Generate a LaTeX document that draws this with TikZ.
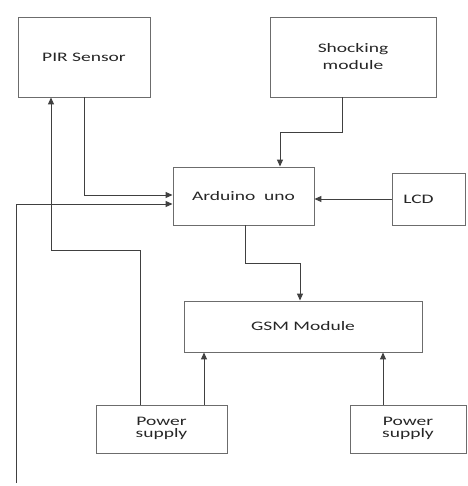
\documentclass[tikz,border=0pt]{standalone}
\usepackage{fontspec}
\newfontfamily\blockfont[FakeStretch=1.5]{Carlito}
\usetikzlibrary{arrows.meta}
\tikzset{
  block/.style={draw=gray!85!black,line width=0.9pt,rectangle,inner sep=0pt,
    font=\blockfont\fontsize{13}{17}\selectfont,text=black!85,align=center},
  link/.style={draw=black!75,line width=1pt,-{Triangle[length=7pt,width=6pt]}}
}
\begin{document}
\begin{tikzpicture}[x=1pt,y=-1pt]
\useasboundingbox[fill=white] (0,0) rectangle (467,486);
% blocks
\node[block,minimum width=132pt,minimum height=80pt] (pir) at (84,57) {PIR Sensor};
\node[block,minimum width=166pt,minimum height=80pt] (shock) at (353,57) {Shocking\\module};
\node[block,minimum width=141pt,minimum height=58pt] (ard) at (243.5,196) {Arduino\ \ uno};
\node[block,minimum width=73pt,minimum height=52pt] (lcd) at (428.5,199) {LCD\hspace{20pt}};
\node[block,minimum width=238pt,minimum height=51pt] (gsm) at (303,326.5) {GSM Module};
\node[block,minimum width=131pt,minimum height=48pt] (psa) at (161.5,429) {\raisebox{3pt}{\shortstack{Power\\supply}}};
\node[block,minimum width=116pt,minimum height=48pt] (psb) at (408,429) {\raisebox{3pt}{\shortstack{Power\\supply}}};
\coordinate (feed) at (16,483);
% connectors
\draw[link] (pir.south) |- ([yshift=1pt]ard.west);
\draw[link] (feed) |- ([yshift=-8pt]ard.west);
\draw[link] ([xshift=-21.5pt]psa.north) -- ++(0,-154) -| ([xshift=-33pt]pir.south);
\draw[link] ([xshift=42.5pt]psa.north) -- ([xshift=42.5pt]psa.north |- gsm.south);
\draw[link] ([xshift=-25pt]psb.north) -- ([xshift=-25pt]psb.north |- gsm.south);
\draw[link] ([xshift=-11pt]shock.south) -- ++(0,35) -| ([xshift=36.5pt]ard.north);
\draw[link] (lcd.west) -- (lcd.west -| ard.east);
\draw[link] ([xshift=1.5pt]ard.south) -- ++(0,38) -| ([xshift=-3pt]gsm.north);
\end{tikzpicture}
\end{document}
